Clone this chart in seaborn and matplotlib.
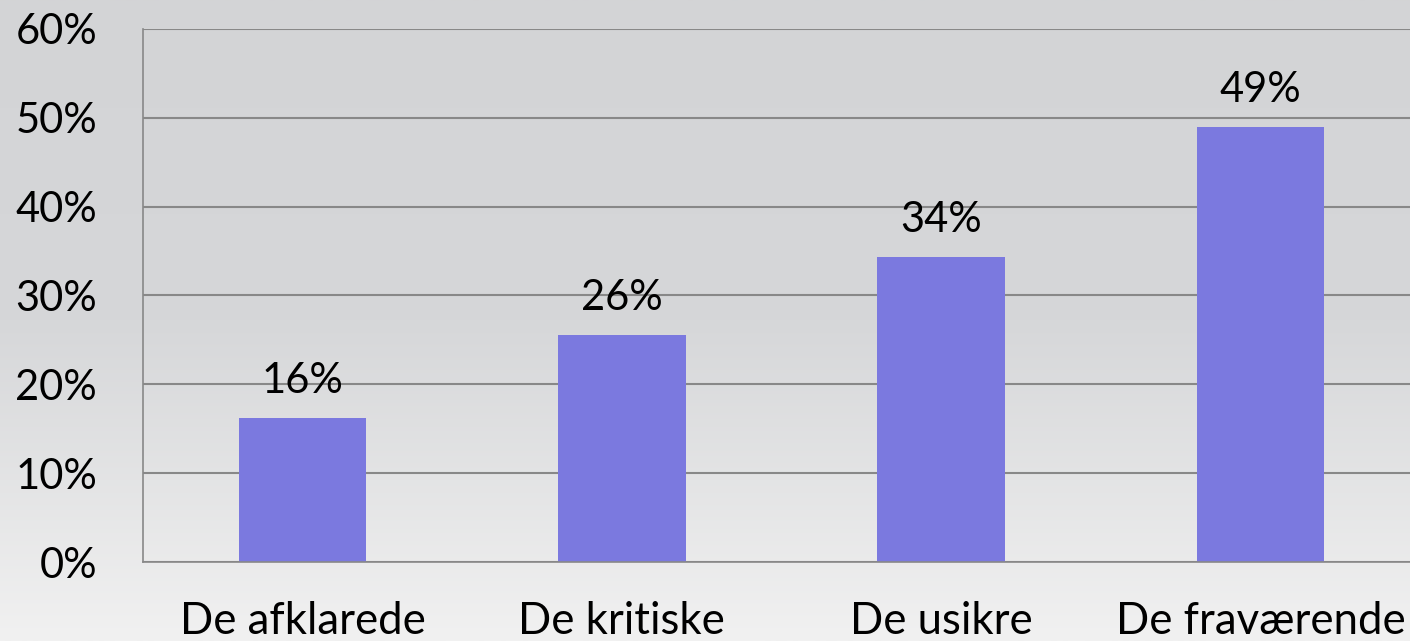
import numpy as np
import pandas as pd
import matplotlib
matplotlib.use('Agg')
import matplotlib.pyplot as plt
import matplotlib.ticker as ticker
import seaborn as sns

# data
categories = ['De afklarede', 'De kritiske', 'De usikre', 'De fraværende']
values = [0.162, 0.255, 0.343, 0.490]
labels = ['16%', '26%', '34%', '49%']

df = pd.DataFrame({'gruppe': categories, 'andel': values})

sns.set_style('white')
plt.rcParams['font.family'] = ['Lato', 'DejaVu Sans']
plt.rcParams['text.color'] = 'black'
plt.rcParams['xtick.color'] = 'black'
plt.rcParams['ytick.color'] = 'black'

fig = plt.figure(figsize=(14.1, 6.41), dpi=100)

# baggrund med grå gradient
bg = fig.add_axes([0, 0, 1, 1], zorder=-10)
grad = np.linspace(0, 1, 256).reshape(-1, 1)
bg.imshow(grad, aspect='auto', extent=[0, 1, 0, 1],
          cmap=matplotlib.colors.LinearSegmentedColormap.from_list('g', ['#d3d4d6', '#d6d7d9', '#f1f1f1']),
          origin='upper')
bg.axis('off')

ax = fig.add_axes([143 / 1410, 79 / 641, 1277 / 1410, 533 / 641])
ax.patch.set_alpha(0)

sns.barplot(data=df, x='gruppe', y='andel', color='#7b79df', saturation=1,
            width=0.4, linewidth=0, ax=ax)

ax.set_ylim(0, 0.6)
ax.set_xlim(-0.5, 3.5)
ax.yaxis.set_major_locator(ticker.MultipleLocator(0.1))
ax.yaxis.set_major_formatter(ticker.FuncFormatter(lambda v, p: f'{v*100:.0f}%'))
ax.set_xticks([-0.5, 0.5, 1.5, 2.5, 3.5], minor=False)
ax.set_xticklabels([])
ax.set_xticks(range(4), minor=True)
ax.set_xticklabels(categories, minor=True)
ax.tick_params(axis='x', which='major', length=11, width=1.2, color='#888888', direction='out')
ax.tick_params(axis='x', which='minor', length=0, pad=28, labelsize=31.5, labelcolor='black')
ax.tick_params(axis='y', length=11, width=1.2, color='#888888', direction='out', pad=22,
               labelsize=30, labelcolor='black')
ax.grid(axis='y', color='#888888', linewidth=1.5)
ax.set_axisbelow(True)
for s in ['top', 'right']:
    ax.spines[s].set_visible(False)
for s in ['left', 'bottom']:
    ax.spines[s].set_color('#888888')
    ax.spines[s].set_linewidth(1.2)
ax.set_xlabel('')
ax.set_ylabel('')

# procent over søjlerne
for i, (v, lab) in enumerate(zip(values, labels)):
    ax.annotate(lab, (i, v), xytext=(0, 13), textcoords='offset points',
                ha='center', va='bottom', fontsize=30, color='black')

fig.savefig('out.png', dpi=100)
